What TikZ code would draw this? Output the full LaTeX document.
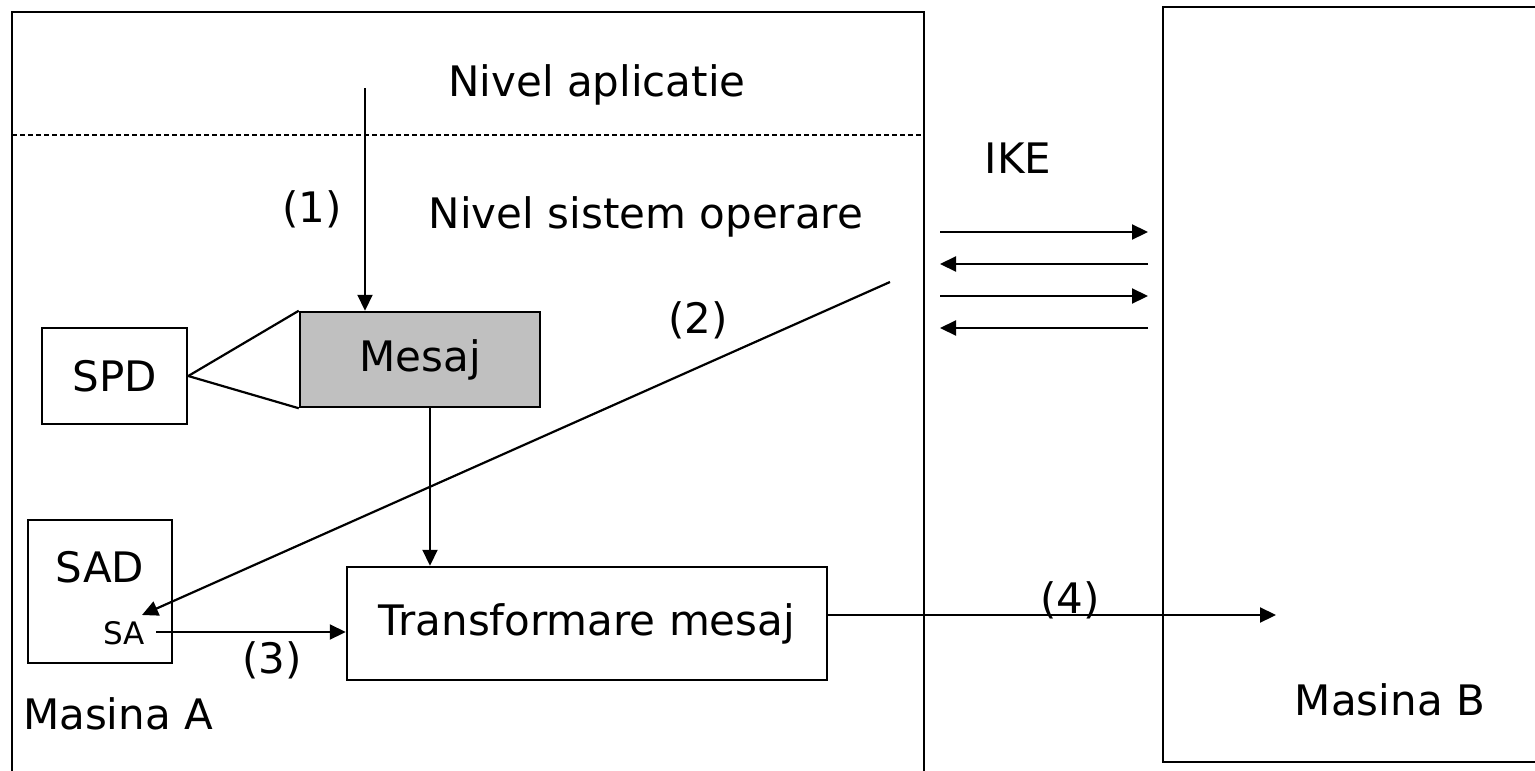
\documentclass[tikz,border=0pt]{standalone}
\usepackage{fontspec}
\setmainfont{DejaVu Sans}
\usetikzlibrary{arrows.meta}
\definecolor{msggray}{RGB}{192,192,192}
\tikzset{
  box/.style={draw, line width=2.5pt, inner sep=0pt},
  lbl/.style={font=\fontsize{42}{48}\selectfont, inner sep=0pt, anchor=base},
  small/.style={font=\fontsize{31}{36}\selectfont, inner sep=0pt, anchor=base},
  conn/.style={line width=2.2pt},
  arr/.style={line width=2.2pt, -{Triangle[length=16pt,width=15pt]}},
}
\begin{document}
\begin{tikzpicture}[x=1pt,y=-1pt]
\useasboundingbox (0,0) rectangle (1535,771);
\clip (0,0) rectangle (1535,771);
\fill[white] (0,0) rectangle (1535,771);

% the two machines
\draw[line width=2.5pt] (12,12) rectangle (924,790);
\draw[line width=2.5pt] (1163,7) rectangle (1560,762);
\draw[line width=1.5pt, dash pattern=on 5pt off 3pt] (12,135) -- (924,135);

% level labels
\node[lbl] (app) at (597,96) {Nivel aplicatie};
\node[lbl] (os) at (646,228) {Nivel sistem operare};
\node[lbl] (ike) at (1018,173) {IKE};

% boxes
\node[box, minimum width=145pt, minimum height=96pt, font=\fontsize{42}{48}\selectfont] (spd) at (114.5,376) {\raisebox{-4pt}{SPD}};
\node[box, fill=msggray, minimum width=240pt, minimum height=95pt, font=\fontsize{42}{48}\selectfont] (mesaj) at (420,359.5) {\raisebox{6pt}{Mesaj}};
\node[box, minimum width=144pt, minimum height=143pt] (sad) at (100,591.5) {};
\node[box, minimum width=480pt, minimum height=113pt, font=\fontsize{42}{48}\selectfont] (trans) at (587,623.5) {Transformare mesaj};
\node[lbl] (sadt) at (100,582) {SAD};
\node[small] (sa) at (124,644) {SA};

% SPD links
\draw[conn] (spd.east) -- (mesaj.north west);
\draw[conn] (spd.east) -- (mesaj.south west);

% (1)
\coordinate (s1) at (365,88);
\draw[arr] (s1) -- (s1 |- mesaj.north);
\node[lbl] (l1) at (312,222) {(1)};

% message to transformation
\coordinate (mt) at (430,0);
\draw[arr] (mt |- mesaj.south) -- (mt |- trans.north);

% (2)
\coordinate (s2) at (890,282);
\coordinate (sain) at (142,615);
\draw[arr] (s2) -- (sain);
\node[lbl] (l2) at (698,333) {(2)};

% (3)
\coordinate (s3) at (156,632);
\draw[arr] (s3) -- (s3 -| trans.west);
\node[lbl] (l3) at (272,673) {(3)};

% (4)
\coordinate (e4) at (1276,615);
\draw[arr] (e4 -| trans.east) -- (e4);
\node[lbl] (l4) at (1070,613) {(4)};

% IKE exchange
\coordinate (ikl) at (940,0);
\coordinate (ikr) at (1148,0);
\draw[arr] (ikl |- 0,232) -- (ikr |- 0,232);
\draw[arr] (ikr |- 0,264) -- (ikl |- 0,264);
\draw[arr] (ikl |- 0,296) -- (ikr |- 0,296);
\draw[arr] (ikr |- 0,328) -- (ikl |- 0,328);

% machine names
\node[lbl] (ma) at (118,729) {Masina A};
\node[lbl] (mb) at (1390,715) {Masina B};
\end{tikzpicture}
\end{document}
